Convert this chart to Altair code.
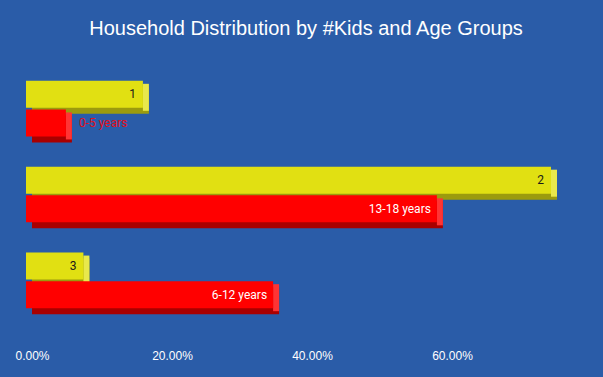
import altair as alt
import pandas as pd

# ---- data ----
kids = ["1", "2", "3"]
age_groups = ["0-5 years", "13-18 years", "6-12 years"]
kids_share = [0.167, 0.750, 0.082]
age_share = [0.057, 0.587, 0.353]
tick_values = [0.0, 0.2, 0.4, 0.6]

slots = []
for k in kids:
    slots += [k + "a", k + "b"]
    if k != kids[-1]:
        slots.append("gap" + k)

rows = []
for k, a, ks, ag in zip(kids, age_groups, kids_share, age_share):
    rows.append({"slot": k + "a", "series": "kids", "label": k, "value": ks})
    rows.append({"slot": k + "b", "series": "age", "label": a, "value": ag})
df = pd.DataFrame(rows)

series_dom = ["kids", "age"]
face_cols = ["#e1e012", "#ff0000"]
dark_cols = ["#9b9b0e", "#a90000"]
side_cols = ["#e8e84c", "#ff3434"]

BG = "#2a5ca8"

x_enc = alt.X(
    "value:Q",
    scale=alt.Scale(domain=[0, 0.8], nice=False),
    axis=alt.Axis(
        values=tick_values, format=".2%", domain=False, ticks=False, grid=False,
        labelColor="white", labelFont="Liberation Sans", labelFontSize=12,
        labelPadding=41, labelOffset=6, title=None, labelFlush=False,
    ),
)
y_enc = alt.Y("slot:N", scale=alt.Scale(domain=slots, paddingInner=0, paddingOuter=0), axis=None)

base = alt.Chart(df)

dark = base.mark_bar(height=27, xOffset=6, x2Offset=6, yOffset=6, y2Offset=6).encode(
    x=x_enc, y=y_enc,
    color=alt.Color("series:N", scale=alt.Scale(domain=series_dom, range=dark_cols), legend=None),
)
side = base.mark_bar(height=27, x2Offset=6, yOffset=3, y2Offset=3).encode(
    x=x_enc, x2=alt.X2("value:Q"), y=y_enc,
    color=alt.Color("series:N", scale=alt.Scale(domain=series_dom, range=side_cols), legend=None),
)
face = base.mark_bar(height=27).encode(
    x=x_enc, y=y_enc,
    color=alt.Color("series:N", scale=alt.Scale(domain=series_dom, range=face_cols), legend=None),
)

txt_kids = base.transform_filter(alt.datum.series == "kids").mark_text(
    align="right", baseline="middle", dx=-7, font="Roboto", fontSize=12, color="#1a1a1a"
).encode(x=x_enc, y=y_enc, text="label:N")

txt_in = base.transform_filter((alt.datum.series == "age") & (alt.datum.value >= 0.1)).mark_text(
    align="right", baseline="middle", dx=-6, font="Roboto", fontSize=12, color="white"
).encode(x=x_enc, y=y_enc, text="label:N")

txt_out = base.transform_filter((alt.datum.series == "age") & (alt.datum.value < 0.1)).mark_text(
    align="left", baseline="middle", dx=13, font="Roboto", fontSize=12, color="#e3101c"
).encode(x=x_enc, y=y_enc, text="label:N")

chart = alt.layer(dark, side, face, txt_kids, txt_in, txt_out).resolve_scale(
    color="independent"
).properties(
    width=560,
    height=229,
    autosize=alt.AutoSizeParams(type="none"),
    padding={"left": 26, "top": 80, "right": 17, "bottom": 68},
    background=BG,
    title=alt.TitleParams(
        "Household Distribution by #Kids and Age Groups",
        color="white", font="Liberation Sans", fontSize=20, fontWeight="normal",
        anchor="middle", baseline="alphabetic", offset=25,
    ),
).configure_view(stroke=None)

chart.save("out.html", embed_options={"renderer": "svg", "actions": False})
